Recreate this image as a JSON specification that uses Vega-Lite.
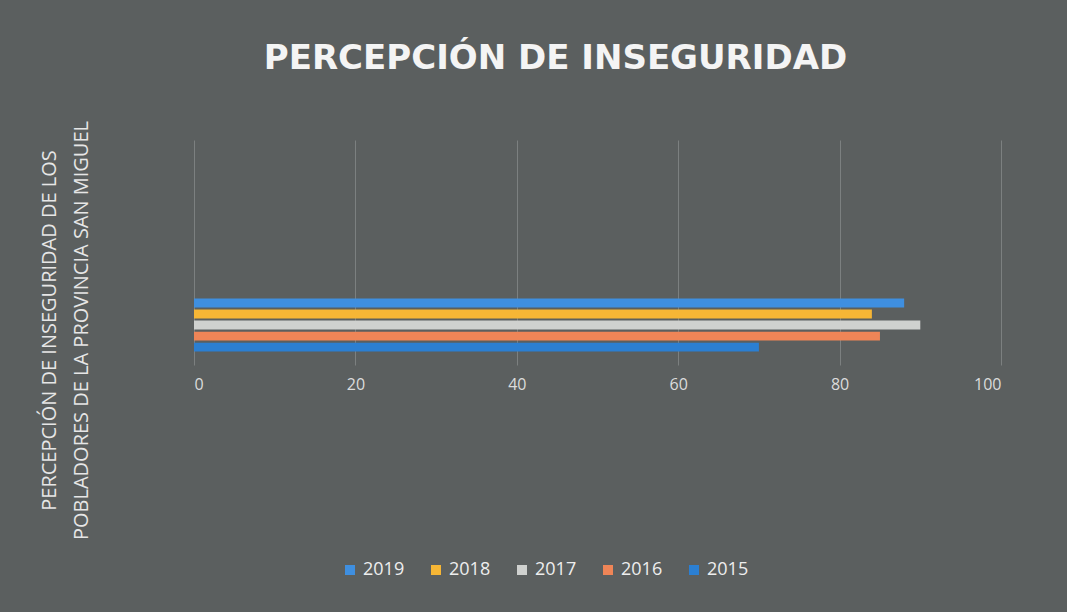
{
  "$schema": "https://vega.github.io/schema/vega-lite/v6.json",
  "autosize": "none",
  "width": 807,
  "height": 225,
  "padding": {"left": 194, "top": 140, "right": 66, "bottom": 247},
  "background": "#5b5f5f",
  "config": {
    "view": {"stroke": null},
    "font": "Open Sans"
  },
  "title": {
    "text": "PERCEPCIÓN DE INSEGURIDAD",
    "font": "DejaVu Sans",
    "fontSize": 34,
    "fontWeight": "bold",
    "color": "#f4f4f4",
    "anchor": "middle",
    "dx": -42,
    "offset": 44
  },
  "data": {
    "values": [
      {"categoria": "Percepción", "anio": "2019", "valor": 88},
      {"categoria": "Percepción", "anio": "2018", "valor": 84},
      {"categoria": "Percepción", "anio": "2017", "valor": 90},
      {"categoria": "Percepción", "anio": "2016", "valor": 85},
      {"categoria": "Percepción", "anio": "2015", "valor": 70}
    ]
  },
  "mark": {"type": "bar"},
  "encoding": {
    "y": {
      "field": "categoria",
      "type": "nominal",
      "scale": {"paddingInner": 0, "paddingOuter": 1, "align": 0.91},
      "axis": {
        "title": ["PERCEPCIÓN DE INSEGURIDAD DE LOS", "POBLADORES DE LA PROVINCIA SAN MIGUEL"],
        "titleFont": "Open Sans",
        "titleFontSize": 20,
        "titleFontWeight": "normal",
        "titleColor": "#e6e6e6",
        "titleAngle": -90,
        "titleAlign": "center",
        "titleBaseline": "top",
        "titleLineHeight": 32,
        "titleX": -155,
        "titleY": 190,
        "labels": false,
        "ticks": false,
        "domain": false,
        "grid": false
      }
    },
    "yOffset": {
      "field": "anio",
      "type": "nominal",
      "sort": ["2019", "2018", "2017", "2016", "2015"],
      "scale": {"paddingInner": 0.2, "paddingOuter": 1, "align": 1}
    },
    "x": {
      "field": "valor",
      "type": "quantitative",
      "scale": {"domain": [0, 100]},
      "axis": {
        "title": null,
        "values": [0, 20, 40, 60, 80, 100],
        "labelFont": "Open Sans",
        "labelFontSize": 16,
        "labelColor": "#dcdcdc",
        "labelPadding": 11,
        "ticks": false,
        "domain": false,
        "grid": true,
        "gridColor": "#7c8080",
        "gridWidth": 1
      }
    },
    "color": {
      "field": "anio",
      "type": "nominal",
      "scale": {
        "domain": ["2019", "2018", "2017", "2016", "2015"],
        "range": ["#3f8fe0", "#f6b635", "#cfd1cf", "#ef8557", "#2b7fd2"]
      },
      "legend": {
        "title": null,
        "orient": "none",
        "legendX": 147,
        "legendY": 421,
        "direction": "horizontal",
        "symbolType": "square",
        "symbolSize": 100,
        "symbolStrokeWidth": 0,
        "labelFont": "Open Sans",
        "labelFontSize": 18,
        "labelColor": "#eeeeee",
        "labelOffset": 4,
        "columnPadding": 22
      }
    }
  }
}
